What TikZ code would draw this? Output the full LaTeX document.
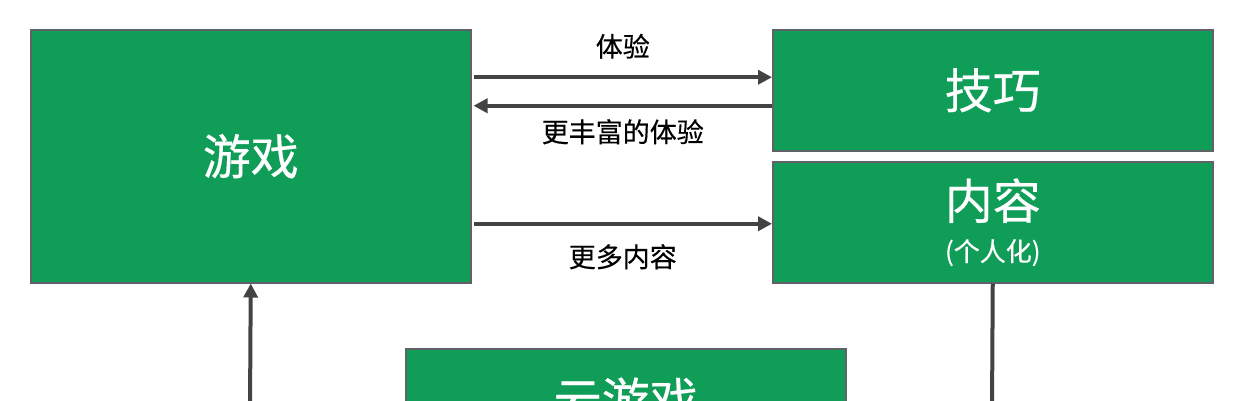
\documentclass[tikz,border=0pt]{standalone}
\usepackage{fontspec}
\setmainfont{Noto Sans CJK SC}[FakeBold=0.4]
\usepackage{xcolor}
\usetikzlibrary{arrows.meta}

\definecolor{boxgreen}{HTML}{0F9D58}
\definecolor{boxedge}{HTML}{5F6368}
\definecolor{linegray}{HTML}{434343}

\begin{document}
\begin{tikzpicture}[x=1pt, y=-1pt]
        % Define a style for the nodes
        \tikzstyle{greenbox} = [rectangle, draw=boxedge, line width=1.5pt, fill=boxgreen, text=white, minimum width=440pt, inner sep=0pt, anchor=north west, align=center, font=\fontsize{48}{54}\selectfont]
        \tikzstyle{arrow} = [-{Triangle[length=14pt, width=14pt]}, line width=4pt, draw=linegray]
        \tikzstyle{plain} = [line width=4pt, draw=linegray]
        \tikzstyle{edgelabel} = [font=\fontsize{27}{30}\selectfont, inner sep=0pt]

        \clip (0,0) rectangle (1246,400);

        % Nodes
        \node (game) [greenbox, minimum height=253pt] at (30,29) {游戏};
        \node (skill) [greenbox, minimum height=121pt] at (772,29) {技巧};
        \node (content) [greenbox, minimum height=121pt] at (772,161) {内容\\[-12pt]{\fontsize{26}{28}\selectfont (个人化)}};
        \node (cloud) [greenbox, minimum height=102pt] at (405,348) {云游戏};
        \coordinate (below) at (250,410);
        \coordinate (away) at (992,410);

        % Edges
        \draw [arrow] ([xshift=2pt, yshift=79pt]game.east) -- node[edgelabel, midway, yshift=31pt] {体验} ([yshift=13pt]skill.west);
        \draw [arrow] ([yshift=-15.5pt]skill.west) -- node[edgelabel, midway, yshift=-26pt] {更丰富的体验} ([xshift=2pt, yshift=50.5pt]game.east);
        \draw [arrow] ([xshift=2pt, yshift=-67.5pt]game.east) -- node[edgelabel, midway, yshift=-33pt] {更多内容} ([yshift=-1.5pt]content.west);
        \draw [arrow] (below) -- (game.south);
        \draw [plain] (content.south) -- (away);
    \end{tikzpicture}
\end{document}
